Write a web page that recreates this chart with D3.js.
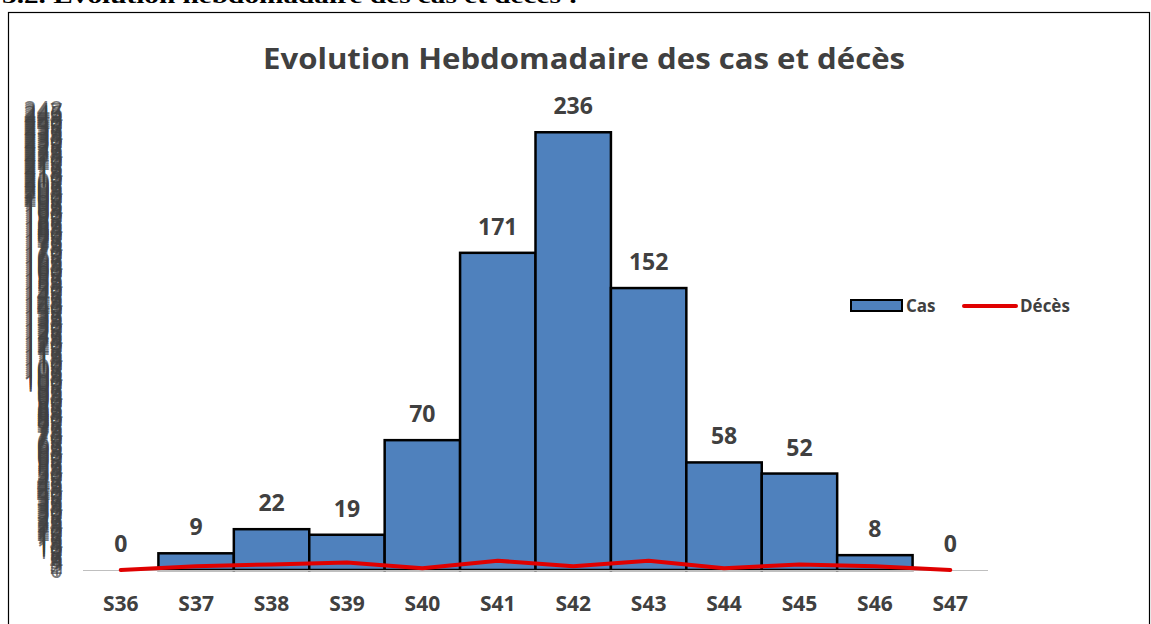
<!DOCTYPE html>
<html>
<head>
<meta charset="utf-8">
<script src="https://cdn.jsdelivr.net/npm/d3@7"></script>
<style>
  body { margin: 0; background: #fff; }
  svg { display: block; }
</style>
</head>
<body>
<div id="chart"></div>
<script>
// weekly data
var weeks = ["S36","S37","S38","S39","S40","S41","S42","S43","S44","S45","S46","S47"];
var cases = [0, 9, 22, 19, 70, 171, 236, 152, 58, 52, 8, 0];
var deaths = [0, 2, 3, 4, 1, 5, 2, 5, 1, 3, 2, 0];
var yTicks = d3.range(0, 249); // excel drew every integer label, all squashed
var title = "Evolution Hebdomadaire des cas et décès";
var heading = "5.2. Evolution hebdomadaire des cas et décès :";

function init() {
  var w = 1151, h = 624;
  var margin = {left: 83, right: 163, top: 110, bottom: 54};

  var svg = d3.select("#chart").append("svg")
      .attr("width", w)
      .attr("height", h);

  // heading from the document, cut off at the top
  svg.append("text")
      .attr("x", 2).attr("y", 2.5)
      .attr("font-family", "Liberation Serif")
      .attr("font-weight", "bold")
      .attr("font-size", 21)
      .attr("fill", "#000")
      .attr("textLength", 576)
      .attr("lengthAdjust", "spacingAndGlyphs")
      .text(heading);

  // chart border
  svg.append("rect")
      .attr("x", 8.5).attr("y", 12.5)
      .attr("width", 1141).attr("height", 640)
      .attr("fill", "none")
      .attr("stroke", "#000")
      .attr("stroke-width", 1.2);

  var x = d3.scaleBand()
      .domain(weeks)
      .range([margin.left, w - margin.right])
      .padding(0);

  var y = d3.scaleLinear()
      .domain([0, 248])
      .range([h - margin.bottom, margin.top]);

  var font = "'Open Sans', 'Noto Sans', sans-serif";
  var txt = "#404040";

  // title
  svg.append("text")
      .attr("x", 584).attr("y", 69)
      .attr("text-anchor", "middle")
      .attr("font-family", font)
      .attr("font-weight", "bold")
      .attr("font-size", 29)
      .attr("fill", txt)
      .attr("textLength", 642)
      .attr("lengthAdjust", "spacingAndGlyphs")
      .text(title);

  // y axis: every label, no line
  var yAxis = svg.append("g")
      .attr("transform", "translate(" + 67 + ",0)")
      .call(d3.axisLeft(y).tickValues(yTicks).tickSize(0).tickPadding(4));
  yAxis.select(".domain").remove();
  yAxis.selectAll("text")
      .attr("font-family", font)
      .attr("font-weight", "normal")
      .attr("font-size", 23)
      .attr("fill", txt)
      .attr("fill-opacity", 0.7);

  // bars
  svg.selectAll("rect.bar")
      .data(cases)
      .enter()
      .append("rect")
      .attr("class", "bar")
      .attr("x", function(d, i) { return x(weeks[i]); })
      .attr("y", function(d) { return y(d); })
      .attr("width", x.bandwidth())
      .attr("height", function(d) { return y(0) - y(d); })
      .attr("fill", "#4F81BD")
      .attr("stroke", "#000")
      .attr("stroke-width", function(d) { return d > 0 ? 2.5 : 0; });

  // x axis line
  svg.append("line")
      .attr("x1", x.range()[0]).attr("x2", x.range()[1])
      .attr("y1", y(0) + 0.5).attr("y2", y(0) + 0.5)
      .attr("stroke", "#BFBFBF")
      .attr("stroke-width", 1);

  // x labels
  var xAxis = svg.append("g")
      .attr("transform", "translate(0," + y(0) + ")")
      .call(d3.axisBottom(x).tickSize(0).tickPadding(26));
  xAxis.select(".domain").remove();
  xAxis.selectAll("text")
      .attr("font-family", font)
      .attr("font-weight", "bold")
      .attr("font-size", 21)
      .attr("fill", txt);

  // deaths line
  var line = d3.line()
      .x(function(d, i) { return x(weeks[i]) + x.bandwidth() / 2; })
      .y(function(d) { return y(d); });

  svg.append("path")
      .datum(deaths)
      .attr("d", line)
      .attr("fill", "none")
      .attr("stroke", "#E00000")
      .attr("stroke-width", 4)
      .attr("stroke-linejoin", "round")
      .attr("stroke-linecap", "round");

  // value labels
  svg.selectAll("text.val")
      .data(cases)
      .enter()
      .append("text")
      .attr("class", "val")
      .attr("x", function(d, i) { return x(weeks[i]) + x.bandwidth() / 2; })
      .attr("y", function(d) { return y(d) - 18; })
      .attr("text-anchor", "middle")
      .attr("font-family", font)
      .attr("font-weight", "bold")
      .attr("font-size", 23)
      .attr("fill", txt)
      .text(function(d) { return d; });

  // legend
  var lg = svg.append("g").attr("transform", "translate(851,300)");
  lg.append("rect")
      .attr("x", 0).attr("y", 0)
      .attr("width", 51).attr("height", 11)
      .attr("fill", "#4F81BD")
      .attr("stroke", "#000")
      .attr("stroke-width", 2);
  lg.append("text")
      .attr("x", 55).attr("y", 12)
      .attr("font-family", font)
      .attr("font-weight", "bold")
      .attr("font-size", 17)
      .attr("fill", txt)
      .text("Cas");
  lg.append("line")
      .attr("x1", 113).attr("x2", 165)
      .attr("y1", 6).attr("y2", 6)
      .attr("stroke", "#E00000")
      .attr("stroke-width", 4)
      .attr("stroke-linecap", "round");
  lg.append("text")
      .attr("x", 169).attr("y", 12)
      .attr("font-family", font)
      .attr("font-weight", "bold")
      .attr("font-size", 17)
      .attr("fill", txt)
      .text("Décès");
}

window.onload = init;
</script>
</body>
</html>
